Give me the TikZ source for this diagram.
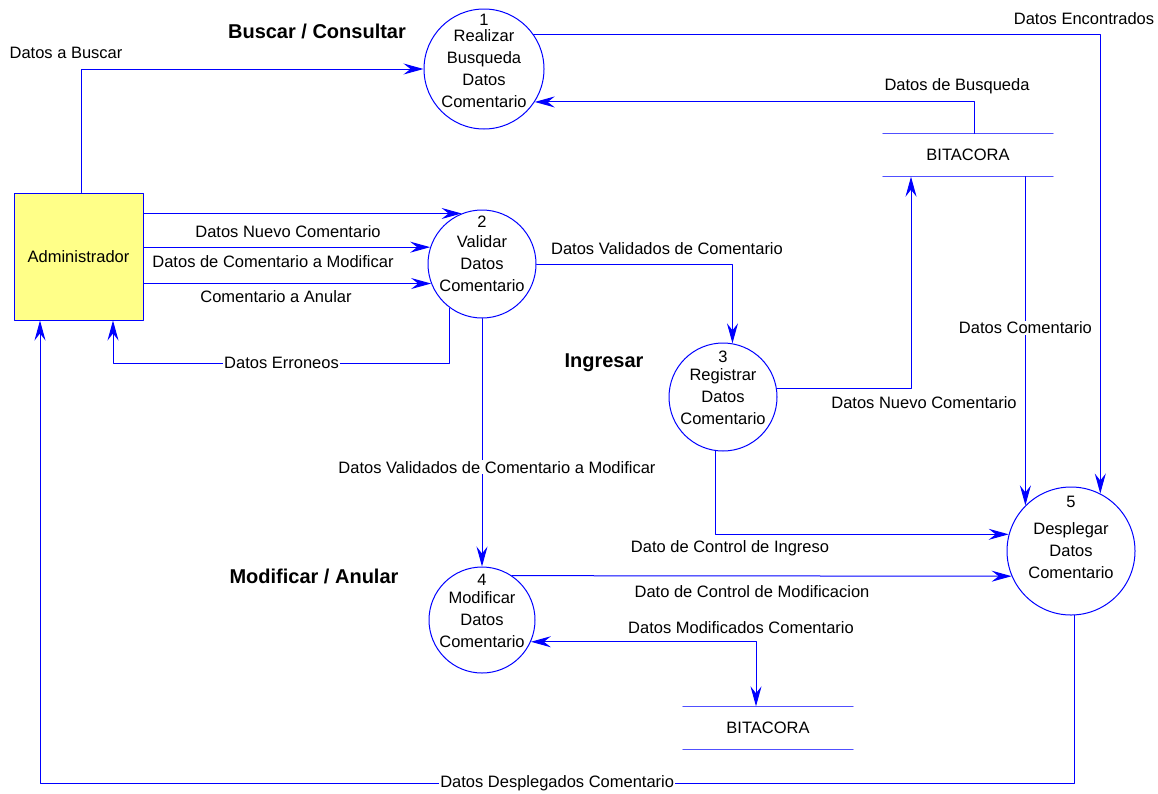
\documentclass[tikz,border=0pt]{standalone}
\usepackage{fontspec}
\setmainfont{Liberation Sans}
\usetikzlibrary{arrows.meta}

\begin{document}
\begin{tikzpicture}[x=1pt,y=-1pt,line cap=round,line join=round,
    >={Stealth[length=20pt,width=11pt,inset=7pt]},
    proc/.style={circle,draw=blue,line width=1pt,align=center,inner sep=0pt,font=\fontsize{16.5}{22}\selectfont},
    num/.style={inner sep=0pt,font=\fontsize{16.5}{20}\selectfont},
    ext/.style={rectangle,draw=blue,line width=1pt,fill={rgb,255:red,255;green,255;blue,136},minimum width=129pt,minimum height=127pt,font=\fontsize{16.5}{20}\selectfont},
    store/.style={minimum width=170pt,minimum height=43pt,inner sep=0pt,font=\fontsize{16.5}{20}\selectfont},
    storeline/.style={draw={rgb,255:red,80;green,80;blue,255},line width=1pt},
    flow/.style={->,draw=blue,line width=1pt},
    lbl/.style={inner sep=1pt,font=\fontsize{16.5}{20}\selectfont},
    ttl/.style={inner sep=1pt,font=\bfseries\fontsize{20}{24}\selectfont}]
    \useasboundingbox (0,0) rectangle (1158,793);
    \node[ext] (adm) at (78.5,256.5) {Administrador};
    \node[proc,minimum size=120pt] (v1) at (484,69) {Realizar\\Busqueda\\Datos\\Comentario};
    \node[num] (n1) at (484,20) {1};
    \node[proc,minimum size=108pt] (v2) at (482,264) {Validar\\Datos\\Comentario};
    \node[num] (n2) at (482,222) {2};
    \node[proc,minimum size=108pt] (v3) at (723,397) {Registrar\\Datos\\Comentario};
    \node[num] (n3) at (723,357) {3};
    \node[proc,minimum size=106pt] (v4) at (482,620) {Modificar\\Datos\\Comentario};
    \node[num] (n4) at (482,580) {4};
    \node[proc,minimum size=128pt] (v5) at (1071,551) {Desplegar\\Datos\\Comentario};
    \node[num] (n5) at (1071,502) {5};
    \node[store] (bit1) at (968,155) {BITACORA};
    \draw[storeline] (bit1.north west) -- (bit1.north east) (bit1.south west) -- (bit1.south east);
    \node[store] (bit2) at (768,728) {BITACORA};
    \draw[storeline] (bit2.north west) -- (bit2.north east) (bit2.south west) -- (bit2.south east);

    \draw[flow] ([xshift=2.5pt]adm.north) |- (v1.west);
    \draw[flow] (v1.35) -| (v5.63);
    \draw[flow] ([xshift=6pt]bit1.north) |- (v1.-33);
    \draw[flow] (adm.east |- v2.112) -- (v2.112);
    \draw[flow] (adm.east |- v2.162) -- (v2.162);
    \draw[flow] (adm.east |- v2.-159) -- (v2.-159);
    \draw[flow] (v2.-126) -- ++(0,55) -| node[lbl,fill=white,pos=0.25] (l-err) {Datos Erroneos} ([xshift=34.5pt]adm.south);
    \draw[flow] (v2.east) -| (v3.80);
    \draw[flow] (v2.south) -- node[lbl,fill=white,pos=0.6,xshift=15pt] (l-valmod) {Datos Validados de Comentario a Modificar} (v4.north);
    \draw[flow] (v3.9) -| ([xshift=-57pt]bit1.south);
    \draw[flow] (v3.-98) |- (v5.165);
    \draw[flow] (bit1.south -| v5.135) -- node[lbl,fill=white,pos=0.46] (l-com) {Datos Comentario} (v5.135);
    \draw[flow] (v4.56) -- (v5.203);
    \draw[flow,<->] (v4.-24) -| ([xshift=-12pt]bit2.north);
    \draw[flow] (v5.-87) -- ++(0,168) -| node[lbl,fill=white,pos=0.25] (l-desp) {Datos Desplegados Comentario} ([xshift=-38.5pt]adm.south);

    \node[lbl] (l-buscar) at (66,53) {Datos a Buscar};
    \node[ttl] (t-buscar) at (317,31) {Buscar / Consultar};
    \node[lbl] (l-enc) at (1084,19) {Datos Encontrados};
    \node[lbl] (l-busq) at (957,86) {Datos de Busqueda};
    \node[lbl] (l-nuevo) at (288,232) {Datos Nuevo Comentario};
    \node[lbl] (l-mod) at (273,262) {Datos de Comentario a Modificar};
    \node[lbl] (l-anular) at (276,297) {Comentario a Anular};
    \node[lbl] (l-val) at (667,249) {Datos Validados de Comentario};
    \node[ttl] (t-ingresar) at (604,363) {Ingresar};
    \node[lbl] (l-nuevo2) at (924,403) {Datos Nuevo Comentario};
    \node[lbl] (l-ctrl1) at (730,548) {Dato de Control de Ingreso};
    \node[ttl] (t-modificar) at (314,576) {Modificar / Anular};
    \node[lbl] (l-ctrl2) at (752,592) {Dato de Control de Modificacion};
    \node[lbl] (l-modif) at (741,628) {Datos Modificados Comentario};
\end{tikzpicture}
\end{document}
